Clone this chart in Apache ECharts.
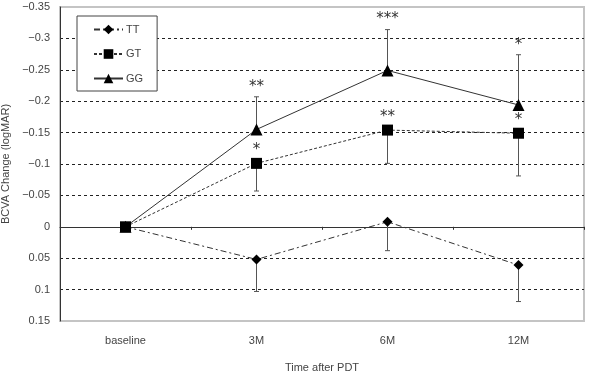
<!DOCTYPE html>
<html>
<head>
<meta charset="utf-8">
<script src="https://cdn.jsdelivr.net/npm/echarts@6/dist/echarts.min.js"></script>
<style>
  html, body { margin: 0; padding: 0; background: #fff; }
  #chart { width: 589px; height: 378px; }
</style>
</head>
<body>
<div id="chart"></div>
<script>
  // data
  var categories = ['baseline', '3M', '6M', '12M']
  var yTicks = { min: -0.35, max: 0.15, step: 0.05 }

  var ttValues = [0, 0.052, -0.008, 0.061]
  var ttErrEnd = [null, 0.103, 0.038, 0.119]

  var gtValues = [0, -0.101, -0.154, -0.149]
  var gtErrEnd = [null, -0.057, -0.101, -0.081]
  var gtStars = ['', '*', '**', '*']

  var ggValues = [0, -0.155, -0.249, -0.194]
  var ggErrEnd = [null, -0.207, -0.314, -0.274]
  var ggStars = ['', '**', '***', '*']

  var ink = '#222'
  var font = 'Liberation Sans, Arial, sans-serif'

  // error bar + significance stars, drawn through the axes
  function errSeries(values, ends, stars, starAtEnd, starGap) {
    var data = []
    for (var i = 0; i < values.length; i++) {
      if (ends[i] === null) continue
      data.push([i, values[i], ends[i]])
    }
    return {
      type: 'custom',
      xAxisIndex: 0,
      yAxisIndex: 0,
      z: 1,
      silent: true,
      data: data,
      renderItem: function(params, api) {
        var idx = api.value(0)
        var p0 = api.coord([idx, api.value(1)])
        var p1 = api.coord([idx, api.value(2)])
        var children = [
          { type: 'line', shape: { x1: p0[0], y1: p0[1], x2: p1[0], y2: p1[1] }, style: { stroke: '#555', lineWidth: 1 } },
          { type: 'line', shape: { x1: p1[0] - 2.5, y1: p1[1], x2: p1[0] + 2.5, y2: p1[1] }, style: { stroke: '#555', lineWidth: 1 } }
        ]
        if (stars && stars[idx]) {
          var anchor = starAtEnd ? p1 : p0
          children.push({
            type: 'text',
            style: {
              text: stars[idx],
              x: anchor[0],
              y: anchor[1] - starGap,
              align: 'center',
              verticalAlign: 'middle',
              fontSize: 15,
              fontFamily: 'DejaVu Sans, sans-serif',
              fill: '#333'
            }
          })
        }
        return { type: 'group', children: children }
      }
    }
  }

  function lineSeries(name, values, symbol, size, dash, z) {
    return {
      name: name,
      type: 'line',
      xAxisIndex: 0,
      data: values,
      symbol: symbol,
      symbolSize: size,
      z: z,
      itemStyle: { color: '#000' },
      lineStyle: { color: '#333', width: 1, type: dash }
    }
  }

  var chart = echarts.init(document.getElementById('chart'))
  chart.setOption({
    animation: false,
    backgroundColor: '#fff',
    grid: {
      left: 60, right: 5, top: 7, bottom: 57,
      outerBoundsMode: 'none',
      containLabel: false,
      show: true,
      borderColor: '#c4c4c4',
      borderWidth: 2
    },
    legend: {
      data: ['TT', 'GT', 'GG'],
      orient: 'vertical',
      left: 77,
      top: 16,
      padding: [8, 14, 7, 16],
      itemWidth: 29,
      itemHeight: 12,
      itemGap: 13.5,
      backgroundColor: '#fff',
      borderColor: '#444',
      borderWidth: 1,
      borderRadius: 0,
      textStyle: { fontSize: 11, color: '#444', fontFamily: font, padding: [0, 0, 0, -2] }
    },
    xAxis: [
      {
        type: 'category',
        data: categories,
        position: 'bottom',
        boundaryGap: true,
        axisLine: { show: false, onZero: false },
        axisTick: { show: false },
        axisLabel: { margin: 14, fontSize: 11, color: '#444', fontFamily: font },
        name: 'Time after PDT',
        nameLocation: 'middle',
        nameGap: 41,
        nameTextStyle: { fontSize: 11, color: '#444', fontFamily: font }
      },
      {
        type: 'category',
        data: categories,
        position: 'top',
        boundaryGap: true,
        axisLine: { show: true, onZero: true, lineStyle: { color: '#333', width: 1 } },
        axisTick: { show: true, inside: true, length: 3, lineStyle: { color: '#333' } },
        axisLabel: { show: false }
      }
    ],
    yAxis: {
      type: 'value',
      inverse: true,
      min: yTicks.min,
      max: yTicks.max,
      interval: yTicks.step,
      axisLine: { show: true, lineStyle: { color: '#333', width: 1 } },
      axisTick: { show: false },
      axisLabel: {
        margin: 10,
        fontSize: 11,
        color: '#444',
        fontFamily: font,
        formatter: function(v) {
          var s = String(Math.round(v * 100) / 100)
          return s.replace('-', '\u2212')
        }
      },
      splitLine: {
        show: true,
        showMinLine: false,
        showMaxLine: false,
        lineStyle: { color: ink, width: 1, type: [3, 3] }
      },
      name: 'BCVA Change (logMAR)',
      nameLocation: 'middle',
      nameGap: 38,
      nameTextStyle: { fontSize: 11, color: '#444', fontFamily: font }
    },
    series: [
      errSeries(ttValues, ttErrEnd, null, false, 0),
      errSeries(ggValues, ggErrEnd, ggStars, true, 10),
      errSeries(gtValues, gtErrEnd, gtStars, false, 13),
      lineSeries('TT', ttValues, 'diamond', 10, [6, 3, 2, 3], 2),
      lineSeries('GG', ggValues, 'triangle', 12, 'solid', 3),
      lineSeries('GT', gtValues, 'rect', 11, [3, 2], 4)
    ]
  })
</script>
</body>
</html>
